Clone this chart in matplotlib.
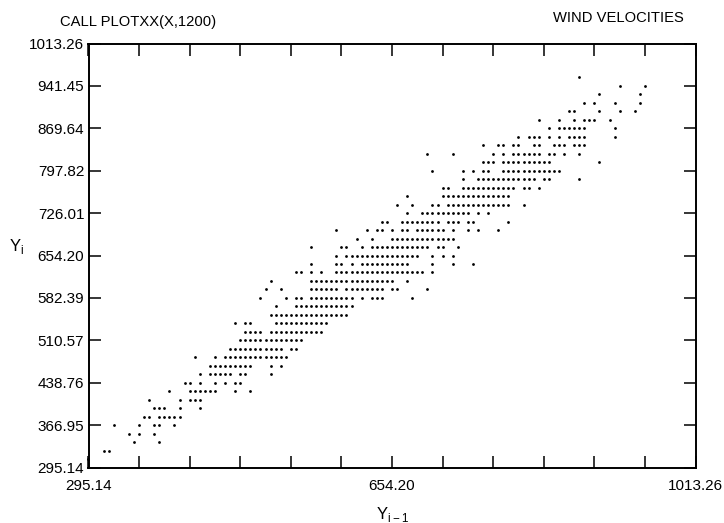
import matplotlib
matplotlib.use("Agg")
import matplotlib.pyplot as plt

plt.rcParams['font.family'] = ['Liberation Sans', 'DejaVu Sans']
plt.rcParams['mathtext.fontset'] = 'custom'
plt.rcParams['mathtext.rm'] = 'Liberation Sans'

# printer plot: 120 columns x 50 rows between the axis limits
axis_min = 295.14
axis_max = 1013.26
n_columns = 120
n_rows = 50

x_tick_labels = ["295.14", "654.20", "1013.26"]
y_tick_labels = ["295.14", "366.95", "438.76", "510.57", "582.39", "654.20",
                 "726.01", "797.82", "869.64", "941.45", "1013.26"]

# occupied printer columns, one list per printer row
row_01 = [0]
row_02 = [3, 4]
row_03 = [9, 14]
row_04 = [8, 10, 13]
row_05 = [5, 10, 13, 14, 17]
row_06 = [11, 12, 14, 15, 16, 17, 18]
row_07 = [13, 14, 15, 18, 22]
row_08 = [12, 18, 20, 21, 22]
row_09 = [16, 20, 21, 22, 23, 24, 25, 29, 32]
row_10 = [19, 20, 22, 25, 27, 29, 30]
row_11 = [22, 24, 25, 26, 27, 28, 30, 31, 36]
row_12 = [24, 25, 26, 27, 28, 29, 30, 31, 32, 36, 38]
row_13 = [21, 25, 27, 28, 29, 30, 31, 32, 33, 34, 35, 36, 37, 38, 39]
row_14 = [28, 29, 30, 31, 32, 33, 34, 35, 36, 37, 38, 40, 41]
row_15 = [30, 31, 32, 33, 34, 35, 36, 37, 38, 39, 40, 41, 42]
row_16 = [31, 32, 33, 34, 36, 37, 38, 39, 40, 41, 42, 43, 44, 45, 46]
row_17 = [29, 31, 32, 37, 38, 39, 40, 41, 42, 43, 44, 45, 46, 47]
row_18 = [36, 37, 38, 39, 40, 41, 42, 43, 44, 45, 46, 47, 48, 49, 50, 51]
row_19 = [37, 41, 42, 43, 44, 45, 46, 47, 48, 49, 50, 51, 52]
row_20 = [34, 39, 41, 42, 44, 45, 46, 47, 48, 49, 50, 51, 52, 54, 56, 57, 58, 64]
row_21 = [35, 38, 44, 45, 46, 47, 48, 49, 51, 52, 53, 54, 55, 56, 57, 58, 60, 61, 67]
row_22 = [36, 44, 45, 46, 47, 48, 49, 50, 51, 52, 53, 54, 55, 56, 57, 58, 59, 60, 63]
row_23 = [41, 42, 44, 46, 49, 50, 51, 52, 53, 54, 55, 56, 57, 58, 59, 60, 61, 62, 63,
          64, 65, 66, 68]
row_24 = [44, 49, 50, 52, 54, 55, 56, 57, 58, 59, 60, 61, 62, 63, 68, 72, 76]
row_25 = [49, 51, 52, 53, 54, 55, 56, 57, 58, 59, 60, 61, 62, 63, 64, 65, 68, 70, 72]
row_26 = [44, 50, 51, 54, 56, 57, 58, 59, 60, 61, 62, 63, 64, 65, 66, 67, 69, 70, 73]
row_27 = [53, 56, 60, 61, 62, 63, 64, 65, 66, 67, 68, 69, 70, 71, 72]
row_28 = [49, 55, 57, 58, 60, 62, 63, 65, 66, 67, 68, 69, 70, 72, 75, 77, 81]
row_29 = [58, 59, 62, 63, 64, 65, 66, 67, 68, 69, 71, 72, 73, 75, 76, 83]
row_30 = [63, 66, 67, 68, 69, 70, 71, 72, 73, 74, 75, 77, 79]
row_31 = [61, 64, 68, 69, 71, 72, 73, 74, 75, 76, 77, 78, 79, 80, 81, 82, 83, 86]
row_32 = [63, 70, 71, 72, 73, 74, 75, 76, 77, 78, 79, 80, 81, 82, 83]
row_33 = [70, 71, 74, 75, 76, 77, 78, 79, 80, 81, 82, 83, 84, 86, 87, 89]
row_34 = [74, 77, 78, 79, 80, 81, 82, 83, 84, 85, 86, 87, 88, 90, 91, 97]
row_35 = [68, 74, 76, 78, 79, 82, 83, 84, 85, 86, 87, 88, 89, 90, 91, 92, 93]
row_36 = [78, 79, 80, 82, 83, 84, 85, 86, 87, 88, 89, 90, 91, 101]
row_37 = [67, 72, 80, 82, 84, 85, 86, 87, 88, 89, 91, 92, 94, 97]
row_38 = [78, 81, 82, 84, 85, 88, 89, 92, 93, 94, 96, 97, 98]
row_39 = [85, 87, 88, 89, 91, 93, 95, 96, 97, 98, 104]
row_40 = [91, 93, 94, 95, 96, 97, 98, 104]
row_41 = [89, 93, 96, 98, 99, 100, 103]
row_42 = [95, 96, 101, 105, 108]
row_43 = [98, 100, 104, 109]
row_44 = [101, 109]
row_45 = [105, 110]
row_46 = [97]

rows = [row_01, row_02, row_03, row_04, row_05, row_06, row_07, row_08, row_09, row_10,
        row_11, row_12, row_13, row_14, row_15, row_16, row_17, row_18, row_19, row_20,
        row_21, row_22, row_23, row_24, row_25, row_26, row_27, row_28, row_29, row_30,
        row_31, row_32, row_33, row_34, row_35, row_36, row_37, row_38, row_39, row_40,
        row_41, row_42, row_43, row_44, row_45, row_46]

x_step = (axis_max - axis_min) / n_columns
y_step = (axis_max - axis_min) / n_rows

x_values = []
y_values = []
for r, columns in enumerate(rows, start=1):
    for c in columns:
        x_values.append(axis_min + c * x_step)
        y_values.append(axis_min + r * y_step)

W, H = 724, 523
fig = plt.figure(figsize=(W / 100, H / 100), dpi=100)
ax = fig.add_axes([88.5 / W, 1 - 467.5 / H, 607 / W, 424 / H])

ax.scatter(x_values, y_values, s=4, c="black", linewidths=0, clip_on=False, zorder=3)

ax.set_xlim(axis_min, axis_max)
ax.set_ylim(axis_min, axis_max)

x_ticks = [axis_min + 10 * i * x_step for i in range(13)]
y_ticks = [axis_min + 5 * i * y_step for i in range(11)]
x_labels = [""] * 13
x_labels[0], x_labels[6], x_labels[12] = x_tick_labels
ax.set_xticks(x_ticks)
ax.set_xticklabels(x_labels)
ax.set_yticks(y_ticks)
ax.set_yticklabels(y_tick_labels)

ax.tick_params(axis="x", direction="in", top=True, length=8.5, width=1.1, pad=8, labelsize=11)
ax.tick_params(axis="y", direction="in", right=True, length=8.5, width=1.1, pad=3, labelsize=11)
for s in ax.spines.values():
    s.set_linewidth(1.4)

fig.text(60 / W, 1 - 22 / H, "CALL PLOTXX(X,1200)", fontsize=10.6, ha="left", va="center")
fig.text(553 / W, 1 - 18 / H, "WIND VELOCITIES", fontsize=10.6, ha="left", va="center")
fig.text(9 / W, 1 - 247 / H, r"Y$_{\mathrm{i}}$", fontsize=12, ha="left", va="center")
fig.text(393 / W, 1 - 514 / H, r"Y$_{\mathrm{i-1}}$", fontsize=12, ha="center", va="center")

fig.savefig("out.png", dpi=100)
